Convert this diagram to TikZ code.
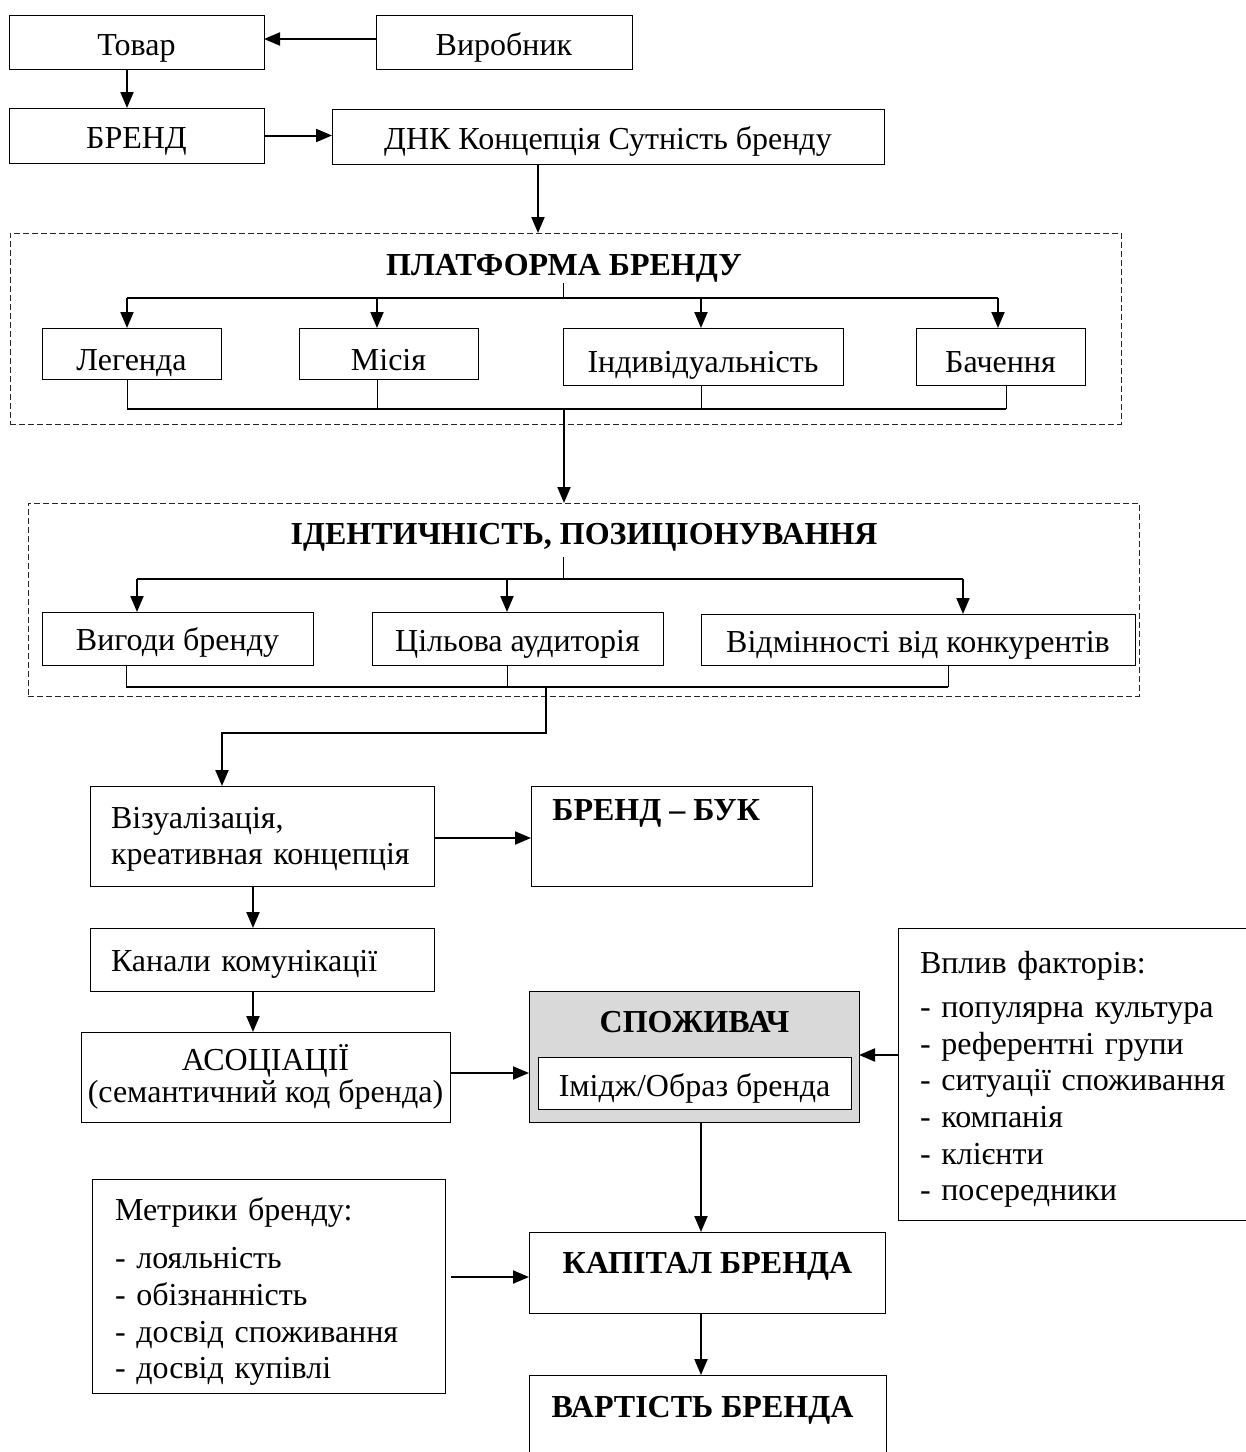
\documentclass[tikz,border=0pt]{standalone}
\usepackage{fontspec}
\setmainfont{Liberation Serif}
\usetikzlibrary{arrows.meta,calc}
\newcommand\dfsz{\fontsize{16}{18}\selectfont}
% \mkbox[options]{name}{x1}{y1}{x2}{y2}{text}
\newcommand\mkbox[7][]{\node[box,minimum width={(#5-#3)*0.5pt},minimum height={(#6-#4)*0.5pt},#1] (#2) at ({(#3+#5)/2},{(#4+#6)/2}) {#7};}
\begin{document}
\begin{tikzpicture}[x=0.5pt,y=-0.5pt,
  box/.style={draw=black, line width=0.5pt, inner sep=0pt, outer sep=0pt, font=\dfsz, align=center},
  th/.style={text height=#1pt, text depth=3pt},
  lbox/.style={align=left},
  txt/.style={font=\dfsz, inner sep=0pt, align=left},
  arr/.style={line width=1pt, -{Triangle[length=8pt,width=6.5pt]}},
  ln/.style={line width=1pt},
  thinln/.style={line width=0.5pt},
  dframe/.style={draw=black!85, line width=0.5pt, dash pattern=on 3pt off 1.5pt},
  ttl/.style={font=\dfsz\bfseries, inner sep=0pt, text height=12.6pt, text depth=2pt},
]
\useasboundingbox (0,0) rectangle (1246,1452);
\clip (0,0) rectangle (1246,1452);

% top rows
\mkbox[th=16.6]{tovar}{9}{15}{264}{69}{Товар}
\mkbox[th=16.6]{vyrob}{376}{15}{632}{69}{Виробник}
\mkbox[th=16.1]{brend}{9}{108}{264}{163}{БРЕНД}
\mkbox[th=16.1]{dnk}{332}{109}{884}{164}{ДНК Концепція Сутність бренду}

\coordinate (c127) at (127,0);
\coordinate (c538) at (538,0);
\coordinate (c39) at (0,39);
\draw[arr] (vyrob.west |- c39) -- (tovar.east |- c39);
\draw[arr] (tovar.south -| c127) -- (brend.north -| c127);
\draw[arr] (brend.east) -- (brend.east -| dnk.west);

% platform
\mkbox[dframe]{plat}{10}{233}{1121}{424}{}
\draw[arr] (dnk.south -| c538) -- (plat.north -| c538);
\node[ttl] (ptitle) at (564,265) {ПЛАТФОРМА БРЕНДУ};
\mkbox[th=20.1]{leg}{42}{328}{221}{379}{Легенда}
\mkbox[th=20.1]{mis}{299}{328}{478}{379}{Місія}
\mkbox[th=19.1]{ind}{563}{328}{843}{385}{Індивідуальність}
\mkbox[th=19.1]{bach}{916}{328}{1085}{385}{Бачення}

\coordinate (pb) at (563,298);
\coordinate (pa1) at (127,298);
\coordinate (pa2) at (377,298);
\coordinate (pa3) at (701,298);
\coordinate (pa4) at (998,298);
\draw[thinln] (563,283) -- (pb);
\draw[ln] (pa1) -- (pa4);
\foreach \i/\n in {1/leg,2/mis,3/ind,4/bach}
  \draw[arr] (pa\i) -- (pa\i |- \n.north);
\coordinate (pq1) at (127,409);
\coordinate (pq2) at (377,409);
\coordinate (pq3) at (701,409);
\coordinate (pq4) at (1006,409);
\foreach \i/\n in {1/leg,2/mis,3/ind,4/bach}
  \draw[thinln] (\n.south -| pq\i) -- (pq\i);
\draw[ln] (pq1) -- (pq4);
\coordinate (pout) at (564,409);

% identity
\mkbox[dframe]{ident}{28}{503}{1139}{696}{}
\draw[arr] (pout) -- (pout |- ident.north);
\node[ttl] (ititle) at (584,534) {ІДЕНТИЧНІСТЬ, ПОЗИЦІОНУВАННЯ};
\mkbox[th=15.1]{vyg}{42}{612}{313}{665}{Вигоди бренду}
\mkbox[th=15.6]{cil}{372}{612}{663}{665}{Цільова аудиторія}
\mkbox[th=16.1]{vidm}{701}{614}{1135}{665}{Відмінності від конкурентів}
\coordinate (ib) at (563,579);
\coordinate (ia1) at (137,579);
\coordinate (ia2) at (507,579);
\coordinate (ia3) at (963,579);
\draw[thinln] (563,557) -- (ib);
\draw[ln] (ia1) -- (ia3);
\foreach \i/\n in {1/vyg,2/cil,3/vidm}
  \draw[arr] (ia\i) -- (ia\i |- \n.north);
\coordinate (iq1) at (126,687);
\coordinate (iq2) at (507,687);
\coordinate (iq3) at (948,687);
\foreach \i/\n in {1/vyg,2/cil,3/vidm}
  \draw[thinln] (\n.south -| iq\i) -- (iq\i);
\draw[ln] (iq1) -- (iq3);
\coordinate (iout) at (546,687);
\coordinate (bend) at (222,733);

% lower part
\mkbox{viz}{90}{786}{434}{886}{}
\node[txt, text width=151pt] (viztxt) at (262,839.5)
  {\fontsize{16}{18.5}\selectfont Візуалізація,\\креативная концепція};
\draw[arr] (iout) |- (bend) -- (bend |- viz.north);
\mkbox{buk}{531}{786}{812}{886}{}
\node[ttl, anchor=mid west, text depth=0pt, text height=0pt] (buktxt) at (552,816) {БРЕНД – БУК};
\coordinate (vzb) at (434,838);
\draw[arr] (vzb) -- (vzb -| buk.west);

\mkbox[lbox,text width=151pt,th=15.1]{kan}{90}{928}{434}{991}{Канали комунікації}
\coordinate (c253) at (253,0);
\draw[arr] (viz.south -| c253) -- (kan.north -| c253);

\mkbox[font=\fontsize{16}{16}\selectfont]{asoc}{81}{1032}{450}{1122}{АСОЦІАЦІЇ\\(семантичний код бренда)}
\draw[arr] (kan.south -| c253) -- (asoc.north -| c253);

\mkbox[fill=black!15]{spozh}{529}{991}{859}{1122}{}
\node[ttl] (sptxt) at (694.5,1022) {СПОЖИВАЧ};
\mkbox[fill=white,th=16.6]{imidzh}{538}{1057}{851}{1109}{Імідж/Образ бренда}
\coordinate (asr) at (450,1073);
\draw[arr] (asr) -- (asr -| spozh.west);

\mkbox{vplyv}{898}{928}{1256}{1220}{}
\node[txt, text width=157pt] (vplyvtxt) at (1077,1079)
  {\fontsize{16}{18.3}\selectfont Вплив факторів:\\[3.8pt]
   - популярна культура\\
   - референтні групи\\
   - ситуації споживання\\
   - компанія\\
   - клієнти\\
   - посередники};
\coordinate (vpl) at (898,1055);
\draw[arr] (vpl) -- (vpl -| spozh.east);

\mkbox{metr}{92}{1179}{445}{1393}{}
\node[txt, text width=153.5pt] (metrtxt) at (268.5,1291)
  {\fontsize{16}{18.5}\selectfont Метрики бренду:\\[5.5pt]
   - лояльність\\
   - обізнанність\\
   - досвід споживання\\
   - досвід купівлі};

\mkbox{kap}{529}{1232}{885}{1313}{}
\node[ttl] (kaptxt) at (707.5,1262.5) {КАПІТАЛ БРЕНДА};
\mkbox{vart}{529}{1375}{886}{1470}{}
\node[ttl] (varttxt) at (702.5,1407) {ВАРТІСТЬ БРЕНДА};

\coordinate (c701) at (701,0);
\draw[arr] (spozh.south -| c701) -- (kap.north -| c701);
\draw[arr] (kap.south -| c701) -- (vart.north -| c701);
\coordinate (mst) at (451,1277);
\draw[arr] (mst) -- (mst -| kap.west);
\end{tikzpicture}
\end{document}
